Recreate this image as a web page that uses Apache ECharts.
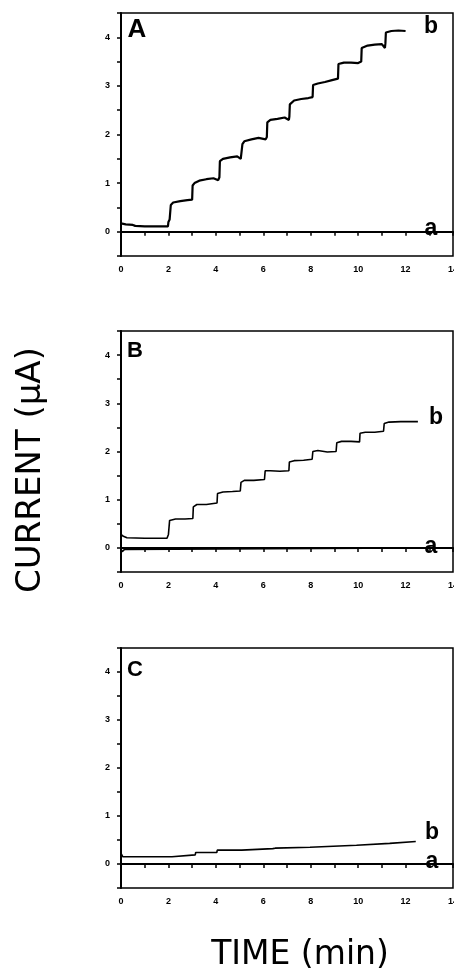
<!DOCTYPE html>
<html>
<head>
<meta charset="utf-8">
<script src="https://cdn.jsdelivr.net/npm/echarts@6/dist/echarts.min.js"></script>
<style>
  html, body { margin: 0; padding: 0; background: #fff; }
  #chart { width: 454px; height: 977px; }
</style>
</head>
<body>
<div id="chart"></div>
<script>
// ticks
const xTicks = [0, 2, 4, 6, 8, 10, 12, 14];
const yTicks = [0, 1, 2, 3, 4];
const panelNames = ['A', 'B', 'C'];

// panel A  [time (min), current (uA)]
const curveA_a = [[0, 0], [12.52, 0]];
const curveA_b = [
  [0, 0.17], [0.2, 0.15], [0.5, 0.14], [0.6, 0.12], [1.0, 0.11], [1.5, 0.11], [1.98, 0.11],
  [2.0, 0.2], [2.05, 0.25], [2.1, 0.55], [2.2, 0.6], [2.5, 0.63], [2.8, 0.65], [3.0, 0.66],
  [3.02, 0.95], [3.1, 1.0], [3.3, 1.05], [3.6, 1.08], [3.9, 1.1], [4.1, 1.06], [4.15, 1.12],
  [4.17, 1.45], [4.3, 1.5], [4.6, 1.53], [4.9, 1.55], [5.05, 1.5], [5.1, 1.53],
  [5.12, 1.8], [5.2, 1.86], [5.5, 1.9], [5.8, 1.93], [6.1, 1.9], [6.15, 1.95],
  [6.17, 2.25], [6.3, 2.3], [6.6, 2.32], [6.9, 2.35], [7.08, 2.3], [7.1, 2.37],
  [7.12, 2.62], [7.3, 2.7], [7.6, 2.73], [7.9, 2.75], [8.08, 2.77],
  [8.1, 3.02], [8.3, 3.05], [8.6, 3.08], [8.9, 3.12], [9.15, 3.15],
  [9.17, 3.45], [9.4, 3.48], [9.7, 3.48], [10.0, 3.47], [10.13, 3.5],
  [10.15, 3.78], [10.4, 3.83], [10.7, 3.85], [11.0, 3.86], [11.13, 3.78], [11.15, 3.88],
  [11.17, 4.1], [11.4, 4.13], [11.7, 4.14], [12.0, 4.13]
];

// panel B
const curveB_a = [[0, -0.02], [0.05, -0.08], [0.15, -0.03], [0.2, 0], [12.43, 0]];
const curveB_b = [
  [0, 0.28], [0.1, 0.24], [0.25, 0.21], [1.0, 0.2], [1.94, 0.2], [2.0, 0.28], [2.05, 0.57],
  [2.3, 0.6], [2.7, 0.6], [3.03, 0.61],
  [3.05, 0.85], [3.2, 0.9], [3.6, 0.9], [4.05, 0.93],
  [4.07, 1.13], [4.3, 1.16], [4.7, 1.17], [5.03, 1.18],
  [5.06, 1.36], [5.2, 1.4], [5.6, 1.4], [6.05, 1.42],
  [6.08, 1.6], [6.3, 1.6], [6.7, 1.59], [7.08, 1.6],
  [7.1, 1.78], [7.3, 1.81], [7.7, 1.82], [8.06, 1.84],
  [8.09, 2.0], [8.3, 2.02], [8.7, 1.99], [9.07, 2.0],
  [9.1, 2.18], [9.3, 2.21], [9.7, 2.21], [10.06, 2.2],
  [10.08, 2.38], [10.3, 2.4], [10.7, 2.4], [11.07, 2.42],
  [11.1, 2.58], [11.3, 2.61], [11.8, 2.62], [12.52, 2.62]
];

// panel C
const curveC_a = [[0, 0], [12.43, 0]];
const curveC_b = [
  [0, 0.22], [0.08, 0.15], [2.15, 0.15], [2.17, 0.19], [3.13, 0.19], [3.15, 0.24],
  [4.04, 0.24], [4.06, 0.29], [5.09, 0.29], [5.11, 0.32], [6.4, 0.32], [6.42, 0.35],
  [6.5, 0.33], [6.55, 0.35], [7.97, 0.35], [7.99, 0.39], [9.93, 0.39], [9.95, 0.43],
  [11.33, 0.43], [11.35, 0.47], [12.43, 0.47]
];

const curves = [[curveA_a, curveA_b], [curveB_a, curveB_b], [curveC_a, curveC_b]];

const chart = echarts.init(document.getElementById('chart'));

const grids = [
  { left: 121, top: 13, width: 332, height: 243 },
  { left: 121, top: 331, width: 332, height: 241 },
  { left: 121, top: 648, width: 332, height: 240 }
];

const tickFont = { color: '#000', fontSize: 9, fontWeight: 'bold', fontFamily: 'Liberation Sans' };

const xAxes = grids.map((g, i) => ({
  type: 'value', gridIndex: i, min: 0, max: 14, interval: 1,
  axisLine: { lineStyle: { color: '#000', width: 2 } },
  axisTick: { length: 4, lineStyle: { color: '#000', width: 1.5 } },
  axisLabel: Object.assign({ margin: 9, hideOverlap: false, formatter: v => xTicks.indexOf(v) >= 0 ? String(v) : '' }, tickFont),
  splitLine: { show: false }
}));

const yAxes = grids.map((g, i) => ({
  type: 'value', gridIndex: i, min: -0.5, max: 4.5, interval: 0.5,
  axisLine: { show: true, lineStyle: { color: '#000', width: 2 } },
  axisTick: { show: true, length: 4, lineStyle: { color: '#000', width: 1.5 } },
  axisLabel: Object.assign({ margin: 11, formatter: v => yTicks.indexOf(v) >= 0 ? String(v) : '' }, tickFont),
  splitLine: { show: false }
}));

const series = [];
curves.forEach((pair, i) => {
  pair.forEach((data, j) => {
    series.push({
      type: 'line', xAxisIndex: i, yAxisIndex: i, data: data,
      smooth: false, showSymbol: false, symbol: 'none', clip: true,
      lineStyle: { color: '#000', width: j === 1 && i === 0 ? 2.2 : 1.6 }
    });
  });
});

// panel letters and curve labels
const boldText = (x, y, text, size) => ({
  type: 'text', x: x, y: y,
  style: { text: text, fill: '#000', font: 'bold ' + size + 'px "Liberation Sans"', textAlign: 'center', textVerticalAlign: 'middle' }
});

const graphic = [
  boldText(137, 30, panelNames[0], 26),
  boldText(135, 351, panelNames[1], 22),
  boldText(135, 670, panelNames[2], 22),
  boldText(431, 27, 'b', 23),
  boldText(431, 229, 'a', 23),
  boldText(436, 418, 'b', 23),
  boldText(431, 547, 'a', 23),
  boldText(432, 833, 'b', 23),
  boldText(432, 862, 'a', 23),
  {
    type: 'text', x: 300, y: 955,
    style: { text: 'TIME (min)', fill: '#000', font: '33px "DejaVu Sans"', textAlign: 'center', textVerticalAlign: 'middle' }
  },
  {
    type: 'text', x: 31, y: 470, rotation: Math.PI / 2,
    style: { text: 'CURRENT (μA)', fill: '#000', font: '34px "DejaVu Sans"', textAlign: 'center', textVerticalAlign: 'middle' }
  }
];

chart.setOption({
  animation: false,
  backgroundColor: '#fff',
  grid: grids.map(g => Object.assign({ show: true, borderColor: '#000', borderWidth: 1.5, containLabel: false, outerBoundsMode: 'none' }, g)),
  xAxis: xAxes,
  yAxis: yAxes,
  series: series,
  graphic: graphic
});
</script>
</body>
</html>
